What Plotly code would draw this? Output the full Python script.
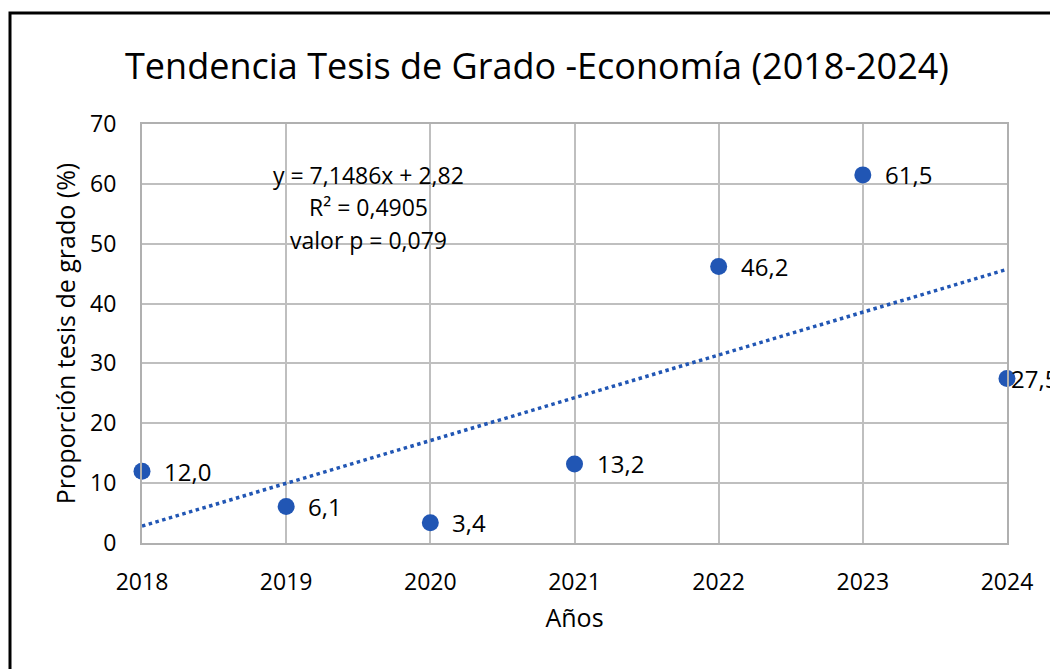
import plotly.graph_objects as go

years = [2018, 2019, 2020, 2021, 2022, 2023, 2024]
values = [12.0, 6.1, 3.4, 13.2, 46.2, 61.5, 27.5]
labels = ["12,0", "6,1", "3,4", "13,2", "46,2", "61,5", "27,5"]
trend_slope = 7.1486
trend_intercept = 2.82
eq_lines = ["y = 7,1486x + 2,82", "R² = 0,4905", "valor p = 0,079"]

title = "Tendencia Tesis de Grado -Economía (2018-2024)"
x_title = "Años"
y_title = "Proporción tesis de grado (%)"

BLUE = "#2156B4"
FONT = "Open Sans"
W, H = 1050, 669
ML, MR, MT, MB = 142, 43, 124, 126
PW, PH = W - ML - MR, H - MT - MB

trend_x = [years[0], years[-1]]
trend_y = [trend_slope * (x - years[0]) + trend_intercept for x in trend_x]

fig = go.Figure()
fig.add_trace(go.Scatter(x=trend_x, y=trend_y, mode="lines",
                         line=dict(color=BLUE, width=3.5, dash="dot"),
                         hoverinfo="skip", showlegend=False, cliponaxis=False))
fig.add_trace(go.Scatter(x=years, y=values, mode="markers",
                         marker=dict(color=BLUE, size=17),
                         showlegend=False, cliponaxis=False))

for i, (x, y, t) in enumerate(zip(years, values, labels)):
    shift = 2 if i == len(years) - 1 else 20
    fig.add_annotation(x=x, y=y, text=t, showarrow=False, xanchor="left",
                       yanchor="middle", xshift=shift,
                       font=dict(family=FONT, size=24, color="#000000"))

eq_y = [61.5, 56.1, 50.6]
for t, yy in zip(eq_lines, eq_y):
    fig.add_annotation(x=2019.57, y=yy, text=t, showarrow=False,
                       xanchor="center", yanchor="middle",
                       font=dict(family=FONT, size=23, color="#000000"))

# chart outer frame (partially cropped in the reference)
fig.add_shape(type="rect", xref="paper", yref="paper",
              x0=(10 - ML) / PW, x1=(1150 - ML) / PW,
              y0=1 - (760 - MT) / PH, y1=1 + (MT - 13) / PH,
              line=dict(color="#000000", width=3), layer="below")

axis_common = dict(showgrid=True, gridcolor="#BFBFBF", gridwidth=2,
                   showline=True, linecolor="#B0B0B0", linewidth=2, mirror=True,
                   zeroline=False, ticks="", color="#000000",
                   tickfont=dict(family=FONT, size=23, color="#000000"))

fig.update_layout(
    width=W, height=H,
    margin=dict(l=ML, r=MR, t=MT, b=MB, autoexpand=False),
    paper_bgcolor="#FFFFFF", plot_bgcolor="#FFFFFF",
    title=dict(text=title, x=537 / W, xanchor="center",
               y=1 - 66 / H, yanchor="middle",
               font=dict(family=FONT, size=36, color="#000000")),
    xaxis=dict(range=[2018, 2024], tickmode="array", tickvals=years,
               ticktext=[str(y) for y in years], ticklabelstandoff=17,
               title=dict(text=x_title, font=dict(family=FONT, size=25, color="#000000"), standoff=14),
               **axis_common),
    yaxis=dict(range=[0, 70], dtick=10, ticklabelstandoff=19,
               title=dict(text=y_title, font=dict(family=FONT, size=25, color="#000000"), standoff=7),
               **axis_common),
)

fig.write_html("out.html", config={"displayModeBar": False},
               post_script="document.body.style.margin='0';document.body.style.overflow='hidden';")
